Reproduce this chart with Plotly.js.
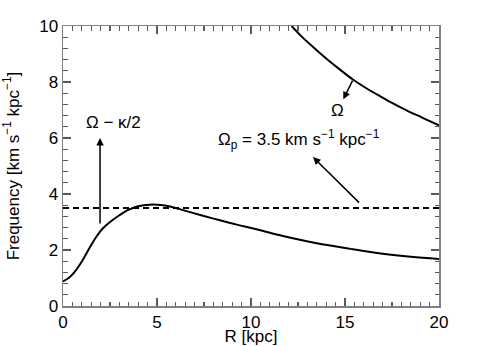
<!DOCTYPE html>
<html>
<head>
<meta charset="utf-8">
<script src="https://cdn.plot.ly/plotly-3.0.1.min.js"></script>
<style>
  html, body { margin: 0; padding: 0; background: #fff; }
  #chart { width: 485px; height: 346px; }
</style>
</head>
<body>
<div id="chart"></div>
<script>
// Omega - kappa/2 curve
const rInner = [0, 0.3, 0.6, 0.9, 1.2, 1.5, 1.8, 2.1, 2.5, 3.0, 3.5, 4.0, 4.6, 5.2, 5.7, 6.2, 7.3, 8.35, 9.4, 10.4, 11.7, 13.5, 15.3, 17.0, 18.5, 20]
const omegaMinusKappa = [0.88, 1.0, 1.2, 1.48, 1.82, 2.18, 2.5, 2.76, 3.0, 3.24, 3.44, 3.56, 3.62, 3.61, 3.55, 3.46, 3.25, 3.06, 2.88, 2.72, 2.5, 2.24, 2.04, 1.87, 1.76, 1.68]

// Omega curve (only the visible part, enters the top at R ~ 12)
const rOmega = [12.16, 12.7, 13.3, 14.0, 14.7, 15.44, 16.2, 16.9, 17.6, 18.3, 19.1, 20]
const omega = [10, 9.62, 9.25, 8.84, 8.46, 8.08, 7.75, 7.48, 7.22, 6.98, 6.73, 6.45]

// pattern speed
const omegaP = 3.5
const rRange = [0, 20]
const freqRange = [0, 10]

const black = '#000'
const axisGray = '#5a5a5a'
const font = 'Liberation Sans, Arial, Helvetica, sans-serif'

const data = [
  {
    x: rInner, y: omegaMinusKappa, type: 'scatter', mode: 'lines',
    line: { color: black, width: 2, shape: 'spline', smoothing: 1 }
  },
  {
    x: rOmega, y: omega, type: 'scatter', mode: 'lines',
    line: { color: black, width: 2, shape: 'spline', smoothing: 1 }
  },
  {
    x: rRange, y: [omegaP, omegaP], type: 'scatter', mode: 'lines',
    line: { color: black, width: 2, dash: '6px,4px' }
  }
]

const layout = {
  width: 485, height: 346,
  margin: { l: 63, r: 46, t: 26, b: 40 },
  showlegend: false,
  xaxis: {
    range: rRange, dtick: 5,
    ticks: 'inside', ticklen: 8, tickcolor: axisGray, tickwidth: 1.5,
    showline: true, mirror: 'ticks', linecolor: '#808080', linewidth: 1.5,
    gridcolor: 'rgba(0,0,0,0)', zerolinecolor: '#808080', zerolinewidth: 1.5,
    tickfont: { family: font, size: 17, color: black },
    minor: { ticks: 'inside', dtick: 0.5, ticklen: 4.5, tickwidth: 1.3, tickcolor: axisGray },
    title: { text: 'R [kpc]', font: { family: font, size: 17, color: black } }
  },
  yaxis: {
    range: freqRange, dtick: 2,
    ticks: 'inside', ticklen: 8, tickcolor: axisGray, tickwidth: 1.5,
    showline: true, mirror: 'ticks', linecolor: '#808080', linewidth: 1.5,
    gridcolor: 'rgba(0,0,0,0)', zerolinecolor: '#808080', zerolinewidth: 1.5,
    tickfont: { family: font, size: 17, color: black },
    minor: { ticks: 'inside', dtick: 0.4, ticklen: 4.5, tickwidth: 1.3, tickcolor: axisGray },
    title: { text: 'Frequency [km s<sup>−1</sup> kpc<sup>−1</sup>]', font: { family: font, size: 17, color: black } }
  },
  annotations: [
    { x: 1.97, y: 6.0, ax: 1.97, ay: 2.89, xref: 'x', yref: 'y', axref: 'x', ayref: 'y',
      showarrow: true, arrowhead: 2, arrowsize: 1, arrowwidth: 1.5, arrowcolor: black, text: '' },
    { x: 2.66, y: 6.55, xref: 'x', yref: 'y', showarrow: false,
      text: 'Ω − κ/2', font: { family: font, size: 17, color: black } },
    { x: 14.91, y: 7.38, ax: 15.44, ay: 8.1, xref: 'x', yref: 'y', axref: 'x', ayref: 'y',
      showarrow: true, arrowhead: 2, arrowsize: 1, arrowwidth: 1.5, arrowcolor: black, text: '' },
    { x: 14.61, y: 7.0, xref: 'x', yref: 'y', showarrow: false,
      text: 'Ω', font: { family: font, size: 17, color: black } },
    { x: 13.3, y: 5.32, ax: 15.83, ay: 3.64, xref: 'x', yref: 'y', axref: 'x', ayref: 'y',
      showarrow: true, arrowhead: 2, arrowsize: 1, arrowwidth: 1.5, arrowcolor: black, text: '' },
    { x: 12.55, y: 5.95, xref: 'x', yref: 'y', showarrow: false,
      text: 'Ω<sub>p</sub> = 3.5 km s<sup>−1</sup> kpc<sup>−1</sup>', font: { family: font, size: 17, color: black } }
  ]
}

Plotly.newPlot('chart', data, layout, { staticPlot: true, displayModeBar: false })
</script>
</body>
</html>
